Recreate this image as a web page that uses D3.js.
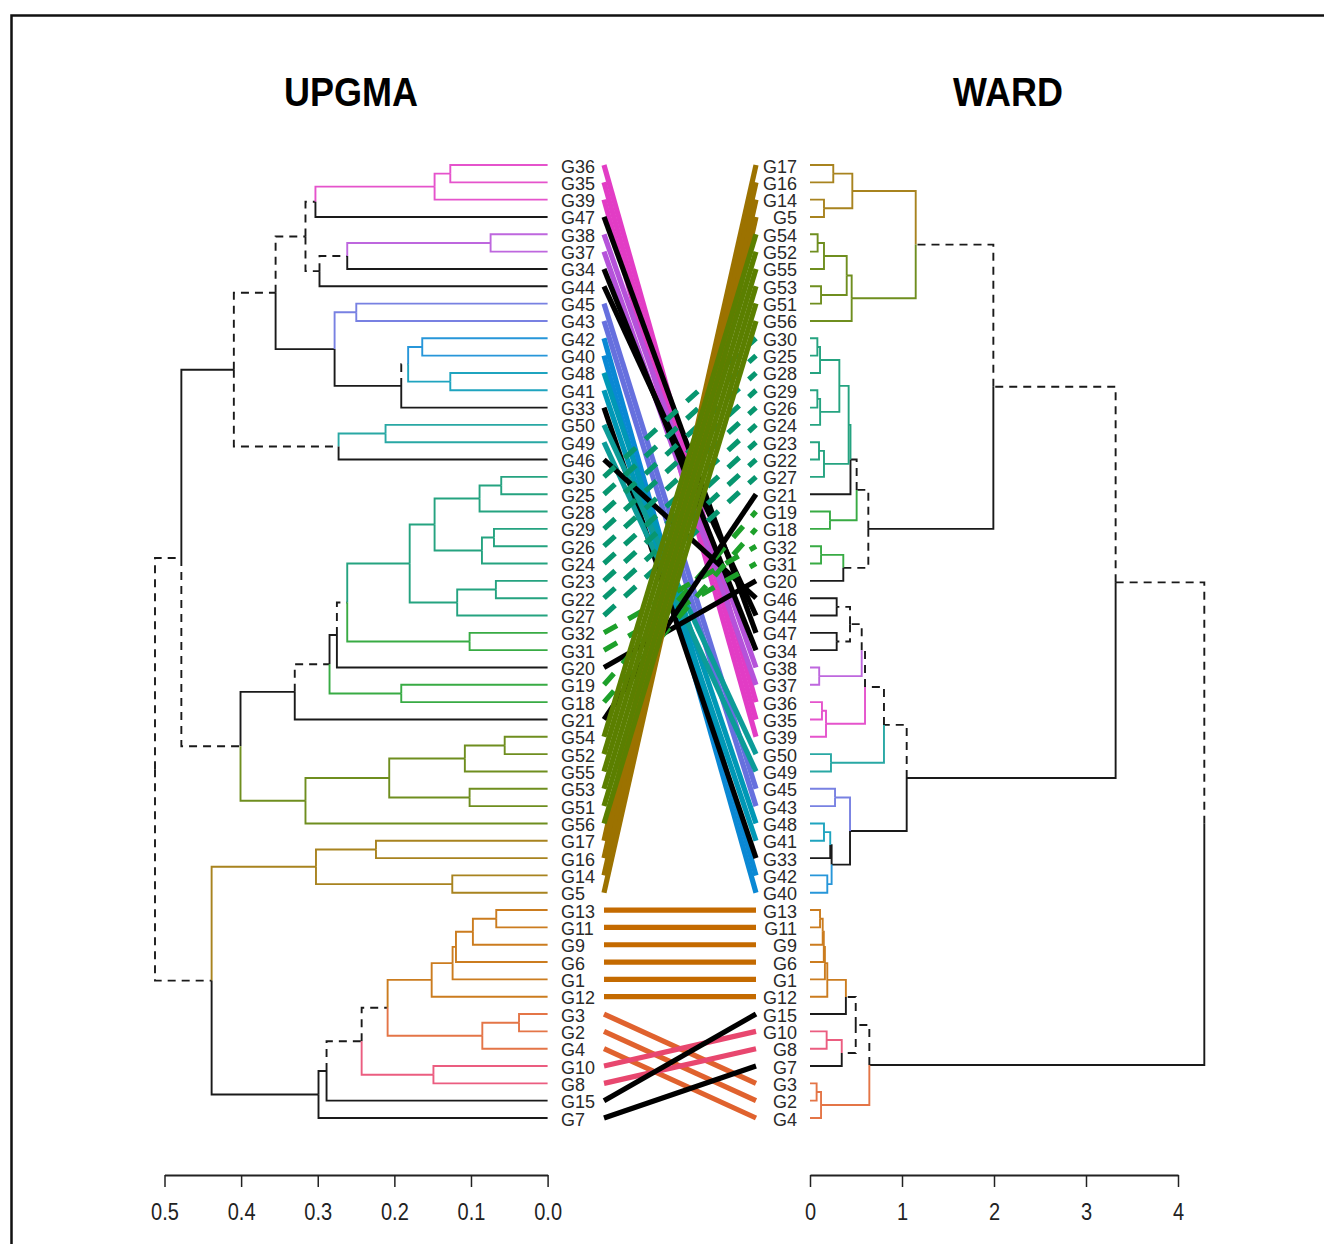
<!DOCTYPE html>
<html>
<head>
<meta charset="utf-8">
<script src="https://cdn.jsdelivr.net/npm/d3@7"></script>
<style>
  body { margin: 0; background: #fff; }
  svg { display: block; }
  text { font-family: "Liberation Sans", Arial, sans-serif; }
</style>
</head>
<body>
<svg id="chart" width="1324" height="1244"></svg>
<script>
// ---- Dendrogram merges: [node id, first child, second child, merge height] ----
const upgmaMerges = [
  ["u1", "G36", "G35", 0.127], ["u2", "u1", "G39", 0.1475], ["u3", "u2", "G47", 0.303],
  ["u4", "G38", "G37", 0.0744], ["u5", "u4", "G34", 0.2615], ["u6", "u5", "G44", 0.2977],
  ["u7", "u3", "u6", 0.316],
  ["u8", "G45", "G43", 0.2497], ["u9", "G42", "G40", 0.1636], ["u10", "G48", "G41", 0.127],
  ["u11", "u9", "u10", 0.182], ["u12", "u11", "G33", 0.191], ["u13", "u8", "u12", 0.278],
  ["u14", "u7", "u13", 0.355],
  ["u15", "G50", "G49", 0.2115], ["u16", "u15", "G46", 0.2728], ["u17", "u14", "u16", 0.4095],
  ["u18", "G30", "G25", 0.0605], ["u19", "u18", "G28", 0.0888], ["u20", "G29", "G26", 0.070],
  ["u21", "u20", "G24", 0.0857], ["u22", "u19", "u21", 0.1475], ["u23", "G23", "G22", 0.0675],
  ["u24", "u23", "G27", 0.118], ["u25", "u22", "u24", 0.180], ["u26", "G32", "G31", 0.1018],
  ["u27", "u25", "u26", 0.2615], ["u28", "u27", "G20", 0.275], ["u29", "G19", "G18", 0.191],
  ["u30", "u28", "u29", 0.2846], ["u31", "u30", "G21", 0.330],
  ["u32", "G54", "G52", 0.056], ["u33", "u32", "G55", 0.108], ["u34", "G53", "G51", 0.1018],
  ["u35", "u33", "u34", 0.2067], ["u36", "u35", "G56", 0.316], ["u37", "u31", "u36", 0.4008],
  ["u38", "u17", "u37", 0.478],
  ["u39", "G17", "G16", 0.224], ["u40", "G14", "G5", 0.1244], ["u41", "u39", "u40", 0.3023],
  ["u42", "G13", "G11", 0.067], ["u43", "u42", "G9", 0.0975], ["u44", "u43", "G6", 0.1196],
  ["u45", "u44", "G1", 0.124], ["u46", "u45", "G12", 0.1513], ["u47", "G3", "G2", 0.0373],
  ["u48", "u47", "G4", 0.0852], ["u49", "u46", "u48", 0.2088], ["u50", "G10", "G8", 0.149],
  ["u51", "u49", "u50", 0.2427], ["u52", "u51", "G15", 0.2885], ["u53", "u52", "G7", 0.299],
  ["u54", "u41", "u53", 0.4385],
  ["u55", "u38", "u54", 0.5124]
];

const wardMerges = [
  ["w1", "G17", "G16", 0.253], ["w2", "G14", "G5", 0.152], ["w3", "w1", "w2", 0.46],
  ["w4", "G54", "G52", 0.083], ["w5", "w4", "G55", 0.152], ["w6", "G53", "G51", 0.12],
  ["w7", "w5", "w6", 0.399], ["w8", "w7", "G56", 0.453], ["w9", "w3", "w8", 1.149],
  ["w10", "G30", "G25", 0.08], ["w11", "w10", "G28", 0.109], ["w12", "G29", "G26", 0.08],
  ["w13", "w12", "G24", 0.11], ["w14", "w11", "w13", 0.319], ["w15", "G23", "G22", 0.098],
  ["w16", "w15", "G27", 0.152], ["w17", "w14", "w16", 0.42], ["w18", "w17", "G21", 0.44],
  ["w19", "G19", "G18", 0.217], ["w20", "w18", "w19", 0.507],
  ["w21", "G32", "G31", 0.12], ["w22", "w21", "G20", 0.362], ["w23", "w20", "w22", 0.634],
  ["w24", "w9", "w23", 1.993],
  ["w25", "G46", "G44", 0.29], ["w26", "G47", "G34", 0.29], ["w27", "w25", "w26", 0.435],
  ["w28", "G38", "G37", 0.1], ["w29", "w27", "w28", 0.562],
  ["w30", "G36", "G35", 0.13], ["w31", "w30", "G39", 0.174], ["w32", "w29", "w31", 0.598],
  ["w33", "G50", "G49", 0.228], ["w34", "w32", "w33", 0.804],
  ["w35", "G45", "G43", 0.272], ["w36", "G48", "G41", 0.152], ["w37", "w36", "G33", 0.22],
  ["w38", "G42", "G40", 0.188], ["w39", "w37", "w38", 0.235], ["w40", "w35", "w39", 0.435],
  ["w41", "w34", "w40", 1.051],
  ["w42", "w24", "w41", 3.322],
  ["w43", "G13", "G11", 0.109], ["w44", "w43", "G9", 0.138], ["w45", "w44", "G6", 0.15],
  ["w46", "w45", "G1", 0.162], ["w47", "w46", "G12", 0.188], ["w48", "w47", "G15", 0.39],
  ["w49", "G10", "G8", 0.181], ["w50", "w49", "G7", 0.345], ["w51", "w48", "w50", 0.497],
  ["w52", "G3", "G2", 0.072], ["w53", "w52", "G4", 0.12], ["w54", "w51", "w53", 0.645],
  ["w55", "w42", "w54", 4.286]
];

// ---- Subtree colours (common subtrees of both trees) ----
const clusterColors = {
  pink: "#E23CC5", violet: "#B552DA", periwinkle: "#6670DE", blue: "#0A88D4",
  cyan: "#0098B6", teal: "#0C9C98", tealgreen: "#07966F", green: "#1DA02A",
  olive: "#5B7F00", gold: "#9C7200", orange: "#C46A00", orangered: "#E0622E",
  pinkred: "#E8476F"
};
const upgmaClusterNodes = {
  u2: "pink", u4: "violet", u8: "periwinkle", u9: "blue", u10: "cyan", u15: "teal",
  u25: "tealgreen", u26: "green", u29: "green", u36: "olive", u41: "gold",
  u46: "orange", u48: "orangered", u50: "pinkred"
};
const wardClusterNodes = {
  w3: "gold", w8: "olive", w17: "tealgreen", w19: "green", w21: "green", w28: "violet",
  w31: "pink", w33: "teal", w35: "periwinkle", w36: "cyan", w38: "blue",
  w47: "orange", w49: "pinkred", w53: "orangered"
};

// Edges that exist in only one of the two trees (drawn dashed)
const upgmaDistinct = ["u3", "u5", "u6", "u7", "u11", "u14", "u16", "u27", "u30", "u37", "u38", "u49", "u51", "u54"];
const wardDistinct = ["w9", "w18", "w20", "w22", "w24", "w25", "w26", "w27", "w29", "w32", "w34", "w42", "w48", "w50", "w51"];

// Connector line colour for each leaf (black when the leaf is in no common subtree)
const connectorGroups = [
  ["pink", ["G36", "G35", "G39"]],
  ["violet", ["G38", "G37"]],
  ["periwinkle", ["G45", "G43"]],
  ["blue", ["G42", "G40"]],
  ["cyan", ["G48", "G41"]],
  ["teal", ["G50", "G49"]],
  ["tealgreen", ["G30", "G25", "G28", "G29", "G26", "G24", "G23", "G22", "G27"]],
  ["green", ["G32", "G31", "G19", "G18"]],
  ["olive", ["G54", "G52", "G55", "G53", "G51", "G56"]],
  ["gold", ["G17", "G16", "G14", "G5"]],
  ["orange", ["G13", "G11", "G9", "G6", "G1", "G12"]],
  ["orangered", ["G3", "G2", "G4"]],
  ["pinkred", ["G10", "G8"]]
];
const dashedConnectors = ["G30", "G25", "G28", "G29", "G26", "G24", "G23", "G22", "G27", "G32", "G31", "G19", "G18"];
// Groups whose connectors are painted last (on top of the crossing bundle)
const topLayerGroups = ["gold", "olive"];

const upgmaTicks = [0.5, 0.4, 0.3, 0.2, 0.1, 0.0];
const wardTicks = [0, 1, 2, 3, 4];
const titles = ["UPGMA", "WARD"];

// ---- Build ----
const svg = d3.select("#chart");

svg.append("rect")
  .attr("x", 11.5).attr("y", 15.5).attr("width", 1400).attr("height", 1300)
  .attr("fill", "none").attr("stroke", "#111").attr("stroke-width", 2.5);

function buildTree(merges) {
  const nodes = {};
  merges.forEach(([id, a, b, h]) => {
    nodes[id] = {
      name: id, height: h,
      children: [a, b].map(c => nodes[c] || { name: c, height: 0 })
    };
  });
  return d3.hierarchy(nodes[merges[merges.length - 1][0]]);
}

const leafTop = 165, leafBottom = 1118;

function layoutTree(root, xScale, clusterNodes, distinct) {
  const order = root.leaves().map(d => d.data.name);
  const yScale = d3.scalePoint().domain(order).range([leafTop, leafBottom]);
  root.eachAfter(n => {
    n.py = n.children ? (n.children[0].py + n.children[1].py) / 2 : yScale(n.data.name);
    n.px = xScale(n.data.height);
  });
  root.eachBefore(n => {
    const own = clusterNodes[n.data.name];
    n.cluster = own || (n.parent ? n.parent.cluster : null);
    n.dashed = distinct.includes(n.data.name);
  });
  return { order, yScale };
}

function drawTree(root, g) {
  const lighten = c => d3.interpolateRgb(c, "#ffffff")(0.12);
  g.selectAll("path.edge")
    .data(root.descendants().filter(n => n.parent))
    .join("path")
    .attr("class", "edge")
    .attr("fill", "none")
    .attr("d", n => `M${n.parent.px},${n.parent.py}V${n.py}H${n.px}`)
    .attr("stroke", n => n.dashed ? "#1a1a1a" : (n.cluster ? lighten(clusterColors[n.cluster]) : "#1a1a1a"))
    .attr("stroke-width", 1.9)
    .attr("stroke-dasharray", n => n.dashed ? "8,6" : null);
}

// Left tree (UPGMA): height grows to the left
const xLeft = d3.scaleLinear().domain([0, 0.5]).range([547.6, 164.5]);
const upgma = buildTree(upgmaMerges);
const L = layoutTree(upgma, xLeft, upgmaClusterNodes, upgmaDistinct);
drawTree(upgma, svg.append("g"));

// Right tree (WARD): height grows to the right
const xRight = d3.scaleLinear().domain([0, 4]).range([810, 1178]);
const ward = buildTree(wardMerges);
const R = layoutTree(ward, xRight, wardClusterNodes, wardDistinct);
drawTree(ward, svg.append("g"));

// Leaf labels (slightly tall, condensed look)
svg.append("g").selectAll("text")
  .data(L.order).join("text")
  .attr("transform", d => `translate(561,${L.yScale(d) + 7.5}) scale(1,1.05)`)
  .attr("font-size", 18).attr("fill", "#2a2a2a")
  .text(d => d);
svg.append("g").selectAll("text")
  .data(R.order).join("text")
  .attr("transform", d => `translate(797,${R.yScale(d) + 7.5}) scale(1,1.05)`)
  .attr("text-anchor", "end")
  .attr("font-size", 18).attr("fill", "#2a2a2a")
  .text(d => d);

// Connectors between matching leaves: left-tree order, with the big bundles on top
const leafGroup = {};
connectorGroups.forEach(([c, leaves]) => leaves.forEach(l => { leafGroup[l] = c; }));
const layer = d => { const k = topLayerGroups.indexOf(leafGroup[d]); return k < 0 ? 0 : k + 1; };
const drawOrder = L.order.map((d, i) => ({ d, i }))
  .sort((a, b) => layer(a.d) - layer(b.d) || a.i - b.i)
  .map(o => o.d);
svg.append("g").selectAll("line")
  .data(drawOrder).join("line")
  .attr("x1", 604).attr("x2", 756)
  .attr("y1", d => L.yScale(d)).attr("y2", d => R.yScale(d))
  .attr("stroke", d => leafGroup[d] ? clusterColors[leafGroup[d]] : "#000")
  .attr("stroke-width", 5.2)
  .attr("stroke-dasharray", d => dashedConnectors.includes(d) ? "15,13" : null);

// Axes
function styleAxis(g) {
  g.select(".domain").attr("stroke", "#222").attr("stroke-width", 2);
  g.selectAll(".tick line").attr("stroke", "#222").attr("stroke-width", 1.5);
  g.selectAll(".tick text")
    .attr("transform", "scale(1,1.15)")
    .attr("y", 45 / 1.15).attr("dy", 0)
    .attr("font-size", 20).attr("fill", "#222")
    .attr("font-family", "\"Liberation Sans\", Arial, sans-serif");
}
svg.append("g").attr("transform", "translate(0,1175)")
  .call(d3.axisBottom(xLeft).tickValues(upgmaTicks).tickFormat(d3.format(".1f")).tickSize(12).tickSizeOuter(0))
  .call(styleAxis);
svg.append("g").attr("transform", "translate(0,1175)")
  .call(d3.axisBottom(xRight).tickValues(wardTicks).tickFormat(d3.format("d")).tickSize(12).tickSizeOuter(0))
  .call(styleAxis);

// Titles
const titleX = [351, 1008];
svg.append("g").selectAll("text")
  .data(titles).join("text")
  .attr("transform", (d, i) => `translate(${titleX[i]},106) scale(1,1.12)`)
  .attr("text-anchor", "middle")
  .attr("font-size", 36).attr("font-weight", "bold").attr("fill", "#000")
  .text(d => d);
</script>
</body>
</html>
